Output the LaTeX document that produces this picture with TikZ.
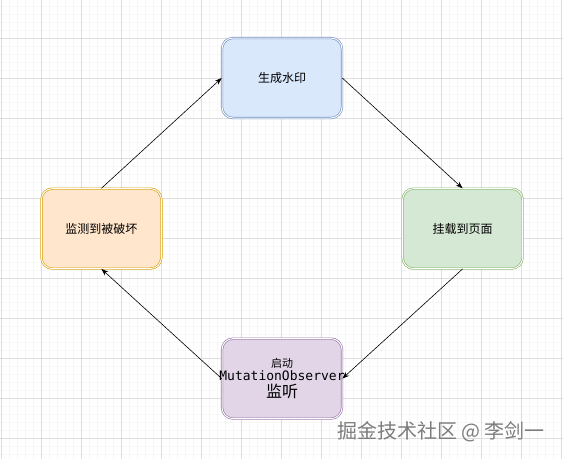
\documentclass[tikz,border=0pt]{standalone}
\usepackage{fontspec}
\setmainfont{Noto Sans CJK SC}
\newfontfamily\codefont{DejaVu Sans Mono}
\usetikzlibrary{positioning,arrows.meta}
\definecolor{blueFill}{HTML}{DAE8FC}
\definecolor{blueLine}{HTML}{6C8EBF}
\definecolor{greenFill}{HTML}{D5E8D4}
\definecolor{greenLine}{HTML}{82B366}
\definecolor{orangeFill}{HTML}{FFE6CC}
\definecolor{orangeLine}{HTML}{D79B00}
\definecolor{purpleFill}{HTML}{E1D5E7}
\definecolor{purpleLine}{HTML}{9673A6}
\definecolor{minorGrid}{HTML}{F7F7F7}
\definecolor{majorGrid}{HTML}{DEDEDE}
\definecolor{signGray}{HTML}{7C7C7C}
\tikzset{
  stage/.style={rounded corners=11pt, minimum width=120pt, minimum height=80pt,
    line width=0.6pt, double=white, double distance=1pt, align=center},
  flow/.style={-{Stealth[length=7pt, width=5pt]}, line width=0.6pt}
}
\begin{document}
\begin{tikzpicture}[x=1pt, y=-1pt, node distance=70pt and 60pt,
  every node/.style={font=\fontsize{12}{14}\selectfont}]
\useasboundingbox (0,0) rectangle (563,459);
\fill[white] (0,0) rectangle (563,459);
% background grid
\foreach \gx in {1,9,...,561} \draw[minorGrid, line width=0.5pt] (\gx,0) -- (\gx,459);
\foreach \gy in {6,14,...,454} \draw[minorGrid, line width=0.5pt] (0,\gy) -- (563,\gy);
\foreach \gx in {1,41,...,561} \draw[majorGrid, line width=0.6pt] (\gx,0) -- (\gx,459);
\foreach \gy in {38,78,...,438} \draw[majorGrid, line width=0.6pt] (0,\gy) -- (563,\gy);
% stages
\node[stage, draw=blueLine, fill=blueFill] (make) at (282,78) {生成水印};
\node[stage, draw=greenLine, fill=greenFill, below right=of make] (mount) {挂载到页面};
\node[stage, draw=orangeLine, fill=orangeFill, below left=of make] (detect) {监测到被破坏};
\node[stage, draw=purpleLine, fill=purpleFill, below=220pt of make] (observe)
  {{\fontsize{11}{13}\selectfont 启动}\\[-1pt]
   \makebox[100pt]{\codefont\fontsize{13}{14}\selectfont MutationObserver}\\[3pt]
   {\fontsize{16}{16}\selectfont 监听}};
% arrows
\draw[flow] (make.east) -- (mount.north);
\draw[flow] (mount.south) -- (observe.east);
\draw[flow] (observe.west) -- (detect.south);
\draw[flow] (detect.north) -- (make.west);
% watermark
\node[text=signGray, font=\fontsize{20}{22}\selectfont] (sign) at (441,432) {掘金技术社区 @ 李剑一};
\end{tikzpicture}
\end{document}
